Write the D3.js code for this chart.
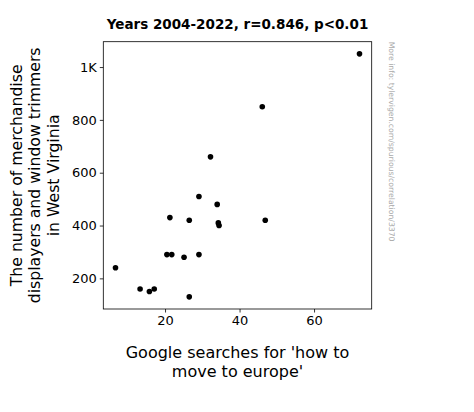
<!DOCTYPE html>
<html>
<head>
<meta charset="utf-8">
<script src="https://cdn.jsdelivr.net/npm/d3@7"></script>
<style>
  body { margin: 0; background: #fff; }
  svg { display: block; font-family: "DejaVu Sans", sans-serif; }
</style>
</head>
<body>
<div id="chart"></div>
<script>
// searches for 'how to move to europe' (x) vs merchandise displayers (y), 2004-2022
const searches = [72.2, 46.1, 32.2, 29.1, 34.0, 21.3, 26.5, 34.3, 34.5, 46.9,
                  20.5, 21.8, 25.1, 29.1, 6.7, 13.3, 15.8, 17.1, 26.5];
const workers = [1050, 850, 660, 510, 480, 430, 420, 410, 400, 420,
                 290, 290, 280, 290, 240, 160, 150, 160, 130];
const xTicks = [20, 40, 60];
const yTicks = [200, 400, 600, 800, 1000];
const yTickLabels = ["200", "400", "600", "800", "1K"];

const W = 474, H = 412;
const m = {top: 41.7, right: 102.3, bottom: 103, left: 103.3};
const w = W - m.left - m.right;
const h = H - m.top - m.bottom;

const svg = d3.select("#chart").append("svg")
    .attr("width", W)
    .attr("height", H);

// 5% padding like matplotlib
const xPad = (d3.max(searches) - d3.min(searches)) * 0.05;
const yPad = (d3.max(workers) - d3.min(workers)) * 0.05;

const x = d3.scaleLinear()
    .domain([d3.min(searches) - xPad, d3.max(searches) + xPad])
    .range([0, w]);
const y = d3.scaleLinear()
    .domain([d3.min(workers) - yPad, d3.max(workers) + yPad])
    .range([h, 0]);

const g = svg.append("g").attr("transform", "translate(" + m.left + "," + m.top + ")");

const xAxis = g.append("g")
    .attr("transform", "translate(0," + h + ")")
    .call(d3.axisBottom(x).tickValues(xTicks).tickSize(3.5).tickPadding(3));
const yAxis = g.append("g")
    .call(d3.axisLeft(y).tickValues(yTicks).tickFormat((d, i) => yTickLabels[i]).tickSize(3.5).tickPadding(3));

[xAxis, yAxis].forEach(a => {
    a.select(".domain").remove();
    a.selectAll("text").attr("font-size", 13).attr("fill", "#000").attr("font-family", "DejaVu Sans");
    a.selectAll("line").attr("stroke", "#000").attr("stroke-width", 0.8);
});

// frame
g.append("rect")
    .attr("width", w).attr("height", h)
    .attr("fill", "none").attr("stroke", "#000").attr("stroke-width", 0.8);

g.selectAll("circle")
    .data(searches)
    .join("circle")
    .attr("cx", d => x(d))
    .attr("cy", (d, i) => y(workers[i]))
    .attr("r", 2.8)
    .attr("fill", "#000");

// title
svg.append("text")
    .attr("x", m.left + w / 2).attr("y", 29)
    .attr("text-anchor", "middle")
    .attr("font-size", 13.5).attr("font-weight", "bold")
    .text("Years 2004-2022, r=0.846, p<0.01");

// x label
const xl = svg.append("text")
    .attr("text-anchor", "middle")
    .attr("font-size", 16);
["Google searches for 'how to", "move to europe'"].forEach((t, i) => {
    xl.append("tspan").attr("x", m.left + w / 2).attr("y", 358 + i * 18.5).text(t);
});

// y label
const yl = svg.append("text")
    .attr("text-anchor", "middle")
    .attr("transform", "rotate(-90)")
    .attr("font-size", 15.7);
["The number of merchandise", "displayers and window trimmers", "in West Virginia"].forEach((t, i) => {
    yl.append("tspan").attr("x", -(m.top + h / 2)).attr("y", 22 + i * 18.3).text(t);
});

// watermark
svg.append("text")
    .attr("transform", "translate(388.5," + m.top + ") rotate(90)")
    .attr("font-size", 7.7).attr("fill", "#aaa")
    .text("More info: tylervigen.com/spurious/correlation/3370");
</script>
</body>
</html>
